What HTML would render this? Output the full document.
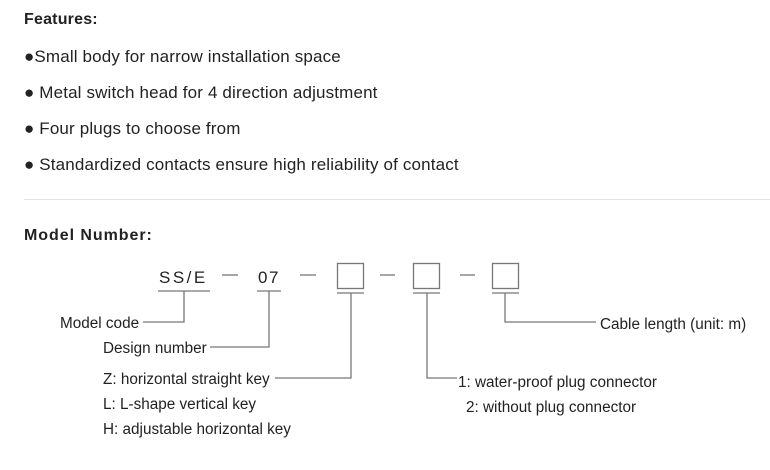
<!DOCTYPE html>
<html><head><meta charset="utf-8"><style>
body{margin:0;width:770px;height:470px;background:#fff;overflow:hidden;position:relative;font-family:"Liberation Sans",sans-serif;color:#222}
.t{position:absolute;white-space:nowrap;font-size:17px;line-height:20px;letter-spacing:0.15px}
.b{font-weight:bold;font-size:16px;letter-spacing:0.2px}
</style></head><body>
<div class="t b" style="left:24px;top:10px">Features:</div>
<div class="t" style="left:24px;top:47px">●Small body for narrow installation space</div>
<div class="t" style="left:24px;top:83px">● Metal switch head for 4 direction adjustment</div>
<div class="t" style="left:24px;top:119px">● Four plugs to choose from</div>
<div class="t" style="left:24px;top:155px">● Standardized contacts ensure high reliability of contact</div>
<div style="position:absolute;left:24px;top:199px;width:746px;height:1px;background:#e2e2e2"></div>
<div class="t b" style="left:24px;top:226px;letter-spacing:0.95px">Model Number:</div>
<svg width="770" height="470" style="position:absolute;left:0;top:0" font-family="Liberation Sans, sans-serif" fill="#222">
<g stroke="#777" stroke-width="1.3" fill="none">
<line x1="158" y1="291" x2="210" y2="291"/>
<line x1="222" y1="275" x2="238" y2="275"/>
<line x1="257" y1="291" x2="281" y2="291"/>
<line x1="300" y1="275" x2="316" y2="275"/>
<rect x="337.5" y="263.5" width="26" height="25"/>
<line x1="337" y1="293" x2="364" y2="293"/>
<line x1="380" y1="275" x2="395" y2="275"/>
<rect x="413.5" y="263.5" width="26" height="25"/>
<line x1="413" y1="293" x2="440" y2="293"/>
<line x1="460" y1="275" x2="475" y2="275"/>
<rect x="492.5" y="263.5" width="26" height="25"/>
<line x1="492" y1="293" x2="519" y2="293"/>
<polyline points="184,291 184,322 143,322"/>
<polyline points="269,291 269,347 210,347"/>
<polyline points="351,293 351,378 275,378"/>
<polyline points="427,293 427,378 457,378"/>
<polyline points="505,293 505,322 596,322"/>
</g>
<g font-size="17">
<text x="159" y="283" letter-spacing="2.5">SS/E</text>
<text x="258" y="283" letter-spacing="1.5">07</text>
</g>
<g font-size="15.3">
<text x="60" y="328">Model code</text>
<text x="103" y="353">Design number</text>
<text x="103" y="384">Z: horizontal straight key</text>
<text x="103" y="409">L: L-shape vertical key</text>
<text x="103" y="434">H: adjustable horizontal key</text>
<text x="458" y="387">1: water-proof plug connector</text>
<text x="466" y="412">2: without plug connector</text>
<text x="600" y="329">Cable length (unit: m)</text>
</g>
</svg>
</body></html>
